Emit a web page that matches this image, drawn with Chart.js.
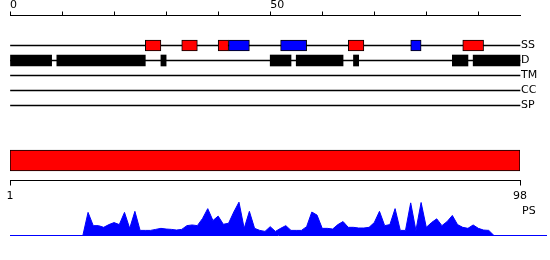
<!DOCTYPE html>
<html>
<head>
<meta charset="utf-8">
<script src="https://cdn.jsdelivr.net/npm/chart.js@4.4.1/dist/chart.umd.min.js"></script>
<style>
    html, body { margin: 0; padding: 0; background: #fff; }
    #wrap { position: relative; width: 550px; height: 260px; overflow: hidden; font-family: "DejaVu Sans", sans-serif; }
    canvas { position: absolute; left: 0; }
    #ps-label { position: absolute; left: 522px; top: 204px; font-size: 11px; line-height: 13px; color: #000; }
</style>
</head>
<body>
<div id="wrap">
    <canvas id="chart-tracks" width="550" height="115" style="top:0"></canvas>
    <canvas id="chart-seq" width="550" height="62" style="top:140px"></canvas>
    <canvas id="chart-ps" width="550" height="50" style="top:190px"></canvas>
    <div id="ps-label">PS</div>
</div>
<script>
// Datos de la secuencia
const seqLength = 98;
const topTicks = [0, 10, 20, 30, 40, 50, 60, 70, 80, 90];
const lowerTicks = [1, 98];
const trackNames = ['SS', 'D', 'TM', 'CC', 'SP'];

// Estructura secundaria: hélices (rojo) y hebras (azul)
const ssHelix = [[26, 29], [33, 36], [40, 42], [65, 68], [87, 91]];
const ssStrand = [[42, 46], [52, 57], [77, 79]];

// Regiones desordenadas
const disorder = [[0, 8], [9, 26], [29, 30], [50, 54], [55, 64], [66, 67], [85, 88], [89, 98]];

// Perfil PS por residuo
const psValues = [
    0, 0, 0, 0, 0, 0, 0, 0, 0, 0, 0, 0, 0, 0, 0,
    0.68, 0.29, 0.29, 0.24, 0.32, 0.38, 0.32, 0.68, 0.21, 0.71,
    0.15, 0.15, 0.15, 0.18, 0.21, 0.19, 0.18, 0.16, 0.18, 0.29,
    0.31, 0.29, 0.5, 0.79, 0.44, 0.57, 0.33, 0.36, 0.69, 0.98,
    0.21, 0.71, 0.21, 0.15, 0.12, 0.26, 0.12, 0.21, 0.29, 0.15,
    0.15, 0.15, 0.26, 0.69, 0.6, 0.21, 0.21, 0.19, 0.32, 0.41,
    0.24, 0.24, 0.22, 0.22, 0.24, 0.38, 0.71, 0.29, 0.32, 0.79,
    0.15, 0.15, 0.96, 0.15, 0.97, 0.24, 0.38, 0.49, 0.29, 0.41,
    0.59, 0.32, 0.24, 0.21, 0.31, 0.21, 0.16, 0.15,
    0, 0, 0, 0, 0
];
const psAxisMax = 103; // la línea base sigue más allá del final

Chart.defaults.font.family = 'DejaVu Sans';
Chart.defaults.font.size = 11;
Chart.defaults.color = '#000';

const toBars = (ranges, row) => ranges.map(([s, e]) => ({ x: [s, e], y: row }));
const boxStyle = { borderColor: '#000', borderWidth: 1, borderSkipped: false, barThickness: 11, order: 1, clip: false };

// Pistas: SS, D, TM, CC, SP con eje superior
new Chart(document.getElementById('chart-tracks'), {
    type: 'bar',
    data: {
        datasets: [
            { ...boxStyle, data: toBars(ssHelix, 0), backgroundColor: '#ff0000' },
            { ...boxStyle, data: toBars(ssStrand, 0), backgroundColor: '#0000ff' },
            { ...boxStyle, data: toBars(disorder, 1), backgroundColor: '#000', borderWidth: 0 },
            {
                data: trackNames.map((n, i) => ({ x: [0, seqLength], y: i })),
                backgroundColor: '#000', barThickness: 1, order: 2, clip: false
            }
        ]
    },
    options: {
        indexAxis: 'y',
        responsive: false,
        animation: false,
        layout: { padding: { left: 10, top: 0, right: 0, bottom: 9.5 } },
        plugins: { legend: { display: false }, tooltip: { enabled: false } },
        datasets: { bar: { grouped: false } },
        scales: {
            x: {
                type: 'linear', position: 'top', min: 0, max: seqLength,
                afterBuildTicks: s => { s.ticks = topTicks.map(v => ({ value: v })); },
                afterFit: s => { s.height = 15.5; },
                ticks: { autoSkip: false, maxRotation: 0, align: 'start', padding: 0,
                    callback: v => (v % 50 === 0 ? String(v) : '') },
                grid: { drawOnChartArea: false, tickLength: 4, color: '#000' },
                border: { color: '#000' }
            },
            y: {
                type: 'linear', position: 'right', reverse: true, min: -2, max: 4, offset: false,
                afterBuildTicks: s => { s.ticks = trackNames.map((n, i) => ({ value: i })); },
                afterFit: s => { s.width = 30; },
                ticks: { padding: 1, callback: v => trackNames[v] },
                grid: { display: false, drawTicks: false, offset: false },
                border: { display: false }
            }
        }
    }
});

// Barra de la secuencia completa con eje 1..98
new Chart(document.getElementById('chart-seq'), {
    type: 'bar',
    data: {
        datasets: [{
            data: [{ x: [1, seqLength], y: 0 }],
            backgroundColor: '#ff0000', borderColor: '#000', borderWidth: 1,
            borderSkipped: false, barThickness: 21
        }]
    },
    options: {
        indexAxis: 'y',
        responsive: false,
        animation: false,
        layout: { padding: { left: 10, right: 30, top: 0.5, bottom: 0 } },
        plugins: { legend: { display: false }, tooltip: { enabled: false } },
        scales: {
            x: {
                type: 'linear', position: 'bottom', min: 1, max: seqLength,
                afterBuildTicks: s => { s.ticks = lowerTicks.map(v => ({ value: v })); },
                afterFit: s => { s.height = 21.5; },
                ticks: { autoSkip: false, maxRotation: 0, padding: 4 },
                grid: { drawOnChartArea: false, tickLength: 5, color: '#000' },
                border: { color: '#000' }
            },
            y: { type: 'linear', min: -1, max: 1, offset: false, display: false }
        }
    }
});

// Perfil PS (área azul)
new Chart(document.getElementById('chart-ps'), {
    type: 'line',
    data: {
        datasets: [{
            data: psValues.map((v, i) => ({ x: i, y: v })),
            fill: 'origin', backgroundColor: '#0000ff', borderColor: '#0000ff',
            borderWidth: 1, pointRadius: 0, tension: 0
        }]
    },
    options: {
        responsive: false,
        animation: false,
        layout: { padding: { left: 10, right: 4, top: 11.5, bottom: 4.5 } },
        plugins: { legend: { display: false }, tooltip: { enabled: false } },
        scales: {
            x: {
                type: 'linear', min: 0, max: psAxisMax,
                afterFit: s => { s.height = 0; },
                ticks: { display: false },
                grid: { display: false, drawTicks: false },
                border: { color: '#0000ff' }
            },
            y: { min: 0, max: 1, display: false }
        }
    }
});
</script>
</body>
</html>
